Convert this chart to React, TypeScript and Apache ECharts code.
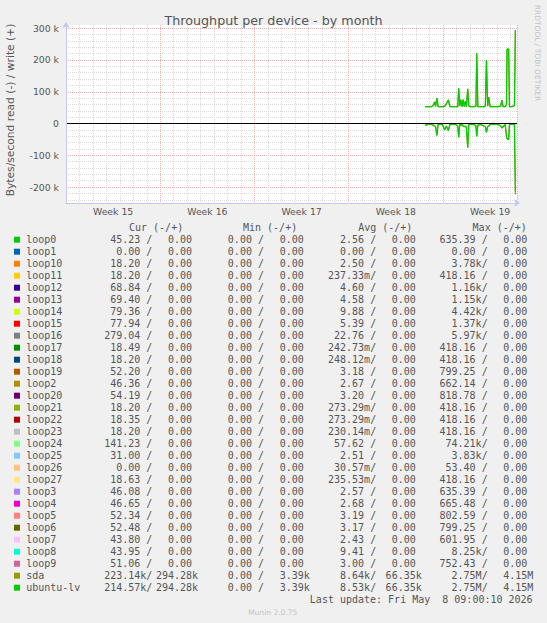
import React, { useEffect, useRef } from 'react';
import * as echarts from 'echarts';

// ---- plot data (x in days from left edge, values in kB/s; read is negative) ----
const times = [26.67, 26.9, 27.15, 27.29, 27.38, 27.45, 27.55, 27.64, 27.8, 27.95, 28.05, 28.15, 28.25, 28.4, 28.52, 28.7, 28.95, 29.1, 29.17, 29.25, 29.33, 29.42, 29.5, 29.58, 29.66, 29.74, 29.84, 29.92, 30.05, 30.3, 30.45, 30.51, 30.59, 30.8, 31.05, 31.15, 31.23, 31.32, 31.4, 31.5, 31.8, 32.1, 32.3, 32.37, 32.47, 32.62, 32.72, 32.76, 32.88, 32.94, 33.1, 33.31, 33.38];
const ubuntuWrite = [53, 53, 53, 58, 68, 54, 80, 53, 53, 53, 53, 55, 62, 74, 53, 53, 53, 53, 111, 55, 75, 53, 75, 53, 70, 53, 109, 55, 53, 53, 55, 221, 53, 53, 53, 56, 200, 55, 83, 53, 53, 53, 55, 74, 53, 53, 60, 234, 234, 53, 53, 56, 294.28];
const ubuntuRead = [-6, -3, -3, -5, -8, -10, -37, -3, -3, -3, -12, -20, -8, -22, -3, -3, -3, -8, -43, -3, -5, -3, -8, -10, -8, -12, -75, -3, -3, -3, -8, -40, -5, -3, -8, -10, -28, -10, -8, -3, -3, -3, -8, -14, -10, -3, -40, -47, -50, -3, -3, -2, -214.57];
const sdaWrite = [53, 53, 53, 58, 68, 54, 80, 53, 53, 53, 53, 55, 62, 74, 53, 53, 53, 53, 111, 55, 75, 53, 75, 53, 70, 53, 109, 55, 53, 53, 55, 221, 53, 53, 53, 56, 200, 55, 83, 53, 53, 53, 55, 74, 53, 53, 60, 234, 234, 53, 53, 56, 294.28];
const sdaRead = [-6, -3, -3, -5, -8, -10, -38, -3, -3, -3, -12, -20, -8, -22, -3, -3, -3, -8, -44, -3, -5, -3, -8, -10, -8, -12, -76, -3, -3, -3, -8, -41, -5, -3, -8, -10, -28, -10, -8, -3, -3, -3, -8, -14, -10, -3, -41, -48, -51, -3, -3, -2, -223.14];

const weekLabels = ['Week 15', 'Week 16', 'Week 17', 'Week 18', 'Week 19'];
const yTickLabels = ['-200 k', '-100 k', '0', '100 k', '200 k', '300 k'];

// ---- legend table ----
const devices = ['loop0', 'loop1', 'loop10', 'loop11', 'loop12', 'loop13', 'loop14', 'loop15', 'loop16', 'loop17', 'loop18', 'loop19', 'loop2', 'loop20', 'loop21', 'loop22', 'loop23', 'loop24', 'loop25', 'loop26', 'loop27', 'loop3', 'loop4', 'loop5', 'loop6', 'loop7', 'loop8', 'loop9', 'sda', 'ubuntu-lv'];
const deviceColors = ['#00cc00', '#0066b3', '#ff8000', '#ffcc00', '#330099', '#990099', '#ccff00', '#ff0000', '#808080', '#008f00', '#00487d', '#b35a00', '#b38f00', '#6b006b', '#8fb300', '#b30000', '#bebebe', '#80ff80', '#80c9ff', '#ffc080', '#ffe680', '#aa80ff', '#ee00cc', '#ff8080', '#666600', '#ffbfff', '#00ffcc', '#cc6699', '#999900', '#00cc00'];
const curRead = ['45.23', '0.00', '18.20', '18.20', '68.84', '69.40', '79.36', '77.94', '279.04', '18.49', '18.20', '52.20', '46.36', '54.19', '18.20', '18.35', '18.20', '141.23', '31.00', '0.00', '18.63', '46.08', '46.65', '52.34', '52.48', '43.80', '43.95', '51.06', '223.14k', '214.57k'];
const curWrite = ['0.00', '0.00', '0.00', '0.00', '0.00', '0.00', '0.00', '0.00', '0.00', '0.00', '0.00', '0.00', '0.00', '0.00', '0.00', '0.00', '0.00', '0.00', '0.00', '0.00', '0.00', '0.00', '0.00', '0.00', '0.00', '0.00', '0.00', '0.00', '294.28k', '294.28k'];
const minRead = ['0.00', '0.00', '0.00', '0.00', '0.00', '0.00', '0.00', '0.00', '0.00', '0.00', '0.00', '0.00', '0.00', '0.00', '0.00', '0.00', '0.00', '0.00', '0.00', '0.00', '0.00', '0.00', '0.00', '0.00', '0.00', '0.00', '0.00', '0.00', '0.00', '0.00'];
const minWrite = ['0.00', '0.00', '0.00', '0.00', '0.00', '0.00', '0.00', '0.00', '0.00', '0.00', '0.00', '0.00', '0.00', '0.00', '0.00', '0.00', '0.00', '0.00', '0.00', '0.00', '0.00', '0.00', '0.00', '0.00', '0.00', '0.00', '0.00', '0.00', '3.39k', '3.39k'];
const avgRead = ['2.56', '0.00', '2.50', '237.33m', '4.60', '4.58', '9.88', '5.39', '22.76', '242.73m', '248.12m', '3.18', '2.67', '3.20', '273.29m', '273.29m', '230.14m', '57.62', '2.51', '30.57m', '235.53m', '2.57', '2.68', '3.19', '3.17', '2.43', '9.41', '3.00', '8.64k', '8.53k'];
const avgWrite = ['0.00', '0.00', '0.00', '0.00', '0.00', '0.00', '0.00', '0.00', '0.00', '0.00', '0.00', '0.00', '0.00', '0.00', '0.00', '0.00', '0.00', '0.00', '0.00', '0.00', '0.00', '0.00', '0.00', '0.00', '0.00', '0.00', '0.00', '0.00', '66.35k', '66.35k'];
const maxRead = ['635.39', '0.00', '3.78k', '418.16', '1.16k', '1.15k', '4.42k', '1.37k', '5.97k', '418.16', '418.16', '799.25', '662.14', '818.78', '418.16', '418.16', '418.16', '74.21k', '3.83k', '53.40', '418.16', '635.39', '665.48', '802.59', '799.25', '601.95', '8.25k', '752.43', '2.75M', '2.75M'];
const maxWrite = ['0.00', '0.00', '0.00', '0.00', '0.00', '0.00', '0.00', '0.00', '0.00', '0.00', '0.00', '0.00', '0.00', '0.00', '0.00', '0.00', '0.00', '0.00', '0.00', '0.00', '0.00', '0.00', '0.00', '0.00', '0.00', '0.00', '0.00', '0.00', '4.15M', '4.15M'];
const headers = ['Cur (-/+)', 'Min (-/+)', 'Avg (-/+)', 'Max (-/+)'];
const lastUpdate = 'Last update: Fri May  8 09:00:10 2026';

const MONO = '"DejaVu Sans Mono", monospace';
const SANS = '"DejaVu Sans", sans-serif';
const TXT = '#555555';
const RED = '#eeb0b0';
const GRAY = '#dadada';
const AXIS = '#c6c6f2';

// plot geometry
const G_LEFT = 66, G_TOP = 25, G_W = 451, G_H = 178;
const Y_MIN = -250, Y_MAX = 310, X_MAX = 33.5;
const pxPerUnit = G_H / (Y_MAX - Y_MIN);
const topOf = (v: number) => G_TOP + (Y_MAX - v) * pxPerUnit;

function splitNum(s: string): [string, string] {
  const last = s[s.length - 1];
  if (/[kmM]/.test(last)) return [s.slice(0, -1), last];
  return [s, ' '];
}
function readField(s: string) {
  const [n, u] = splitNum(s);
  return n.padStart(6, ' ') + u + '/';
}
function writeField(s: string) {
  const [n, u] = splitNum(s);
  return n.padStart(6, ' ') + (u === ' ' ? '' : u);
}

export default function App() {
  const ref = useRef<HTMLDivElement>(null);
  useEffect(() => {
    const el = ref.current!;
    const chart = echarts.init(el, null, { renderer: 'svg' });

    const mk = (t: number[], v: number[]) => t.map((x, i) => [x, v[i]]);

    const graphics: any[] = [];
    graphics.push({
      type: 'text', x: 273.5, y: 20,
      style: { text: 'Throughput per device - by month', fontFamily: SANS, fontSize: 12.7, fill: TXT, align: 'center', verticalAlign: 'middle' },
    });
    graphics.push({
      type: 'text', x: 10, y: 110, rotation: Math.PI / 2,
      style: { text: 'Bytes/second read (-) / write (+)', fontFamily: SANS, fontSize: 10.7, fill: TXT, align: 'center', verticalAlign: 'middle' },
    });
    graphics.push({
      type: 'text', x: 537.5, y: 53, rotation: -Math.PI / 2,
      style: { text: 'RRDTOOL / TOBI OETIKER', fontFamily: SANS, fontSize: 7.5, fill: '#c4c4c4', align: 'center', verticalAlign: 'middle' },
    });
    const headerX = [129, 243, 358.2, 472.6];
    headers.forEach((h, i) => {
      graphics.push({ type: 'text', x: headerX[i], y: 227.7, style: { text: h, fontFamily: MONO, fontSize: 10, fill: TXT, align: 'left', verticalAlign: 'middle' } });
    });
    const colX = [104.2, 156, 215.8, 267.7, 328, 379.6, 439.5, 491.2];
    devices.forEach((d, i) => {
      const y = 239.7 + 12 * i;
      graphics.push({ type: 'rect', shape: { x: 14, y: y - 3, width: 6, height: 6 }, style: { fill: deviceColors[i] } });
      graphics.push({ type: 'text', x: 26.2, y, style: { text: d, fontFamily: MONO, fontSize: 10, fill: TXT, align: 'left', verticalAlign: 'middle' } });
      const cells = [
        readField(curRead[i]), writeField(curWrite[i]),
        readField(minRead[i]), writeField(minWrite[i]),
        readField(avgRead[i]), writeField(avgWrite[i]),
        readField(maxRead[i]), writeField(maxWrite[i]),
      ];
      cells.forEach((c, j) => {
        graphics.push({ type: 'text', x: colX[j], y, style: { text: c, fontFamily: MONO, fontSize: 10, fill: TXT, align: 'left', verticalAlign: 'middle' } });
      });
    });
    graphics.push({ type: 'text', x: 532.6, y: 599.7, style: { text: lastUpdate, fontFamily: MONO, fontSize: 10, fill: TXT, align: 'right', verticalAlign: 'middle' } });
    graphics.push({ type: 'text', x: 272.8, y: 612, style: { text: 'Munin 2.0.75', fontFamily: SANS, fontSize: 7.5, fill: '#c4c4c4', align: 'center', verticalAlign: 'middle' } });

    const hiddenX = (gi: number) => ({ type: 'value', gridIndex: gi, show: false, min: 0, max: X_MAX });
    const hiddenY = (gi: number) => ({ type: 'value', gridIndex: gi, show: false, min: Y_MIN, max: Y_MAX });
    const gridOnlyX = (gi: number, interval: number, color: string) => ({
      type: 'value', gridIndex: gi, min: 0, max: X_MAX, interval,
      axisLine: { show: false }, axisTick: { show: false }, axisLabel: { show: false },
      splitLine: { show: true, lineStyle: { color, type: 'dotted', width: 1 } },
    });
    const gridOnlyY = (gi: number, min: number, max: number, interval: number, color: string) => ({
      type: 'value', gridIndex: gi, min, max, interval,
      axisLine: { show: false }, axisTick: { show: false }, axisLabel: { show: false },
      splitLine: { show: true, lineStyle: { color, type: 'dotted', width: 1 } },
    });

    // horizontal minor lines: every 20 k from -240 k to 300 k; major: every 100 k from -200 k to 300 k
    const minorTop = topOf(300), minorH = topOf(-240) - topOf(300);
    const majorTop = topOf(300), majorH = topOf(-200) - topOf(300);

    const option: any = {
      animation: false,
      backgroundColor: '#f0f0f0',
      grid: [
        { left: G_LEFT, top: G_TOP, width: G_W, height: G_H, show: true, backgroundColor: '#ffffff', borderWidth: 0 },
        { left: G_LEFT, top: G_TOP, width: G_W, height: G_H, show: false },
        { left: G_LEFT, top: G_TOP, width: G_W, height: G_H, show: false },
        { left: G_LEFT, top: minorTop, width: G_W, height: minorH, show: false },
        { left: G_LEFT, top: majorTop, width: G_W, height: majorH, show: false },
      ],
      xAxis: [
        {
          type: 'value', gridIndex: 0, min: 0, max: X_MAX, interval: 0.5, z: 5,
          axisLine: { show: true, onZero: false, lineStyle: { color: AXIS, width: 1 }, symbol: ['none', 'arrow'], symbolSize: [6, 6], symbolOffset: [0, 3] },
          axisTick: { show: false },
          axisLabel: {
            margin: 4, color: TXT, fontFamily: SANS, fontSize: 9.3,
            formatter: (v: number) => {
              const k = (v - 3.5) / 7;
              if (Math.abs(k - Math.round(k)) < 1e-6 && k >= 0 && k < weekLabels.length) return weekLabels[Math.round(k)];
              return '';
            },
          },
          splitLine: { show: false },
        },
        gridOnlyX(1, 1, GRAY),
        gridOnlyX(2, 7, RED),
        hiddenX(3),
        hiddenX(4),
      ],
      yAxis: [
        {
          type: 'value', gridIndex: 0, min: Y_MIN, max: Y_MAX, interval: 10, z: 5,
          axisLine: { show: true, onZero: false, lineStyle: { color: AXIS, width: 1 }, symbol: ['none', 'arrow'], symbolSize: [6, 6], symbolOffset: [0, 3] },
          axisTick: { show: false },
          axisLabel: {
            margin: 7, color: TXT, fontFamily: SANS, fontSize: 9.3,
            formatter: (v: number) => {
              const r = Math.round(v);
              if (r % 100 !== 0) return '';
              const idx = (r + 200) / 100;
              return yTickLabels[idx] ?? '';
            },
          },
          splitLine: { show: false },
        },
        hiddenY(1),
        hiddenY(2),
        gridOnlyY(3, -240, 300, 20, GRAY),
        gridOnlyY(4, -200, 300, 100, RED),
      ],
      series: [
        { name: 'sda write', type: 'line', xAxisIndex: 0, yAxisIndex: 0, data: mk(times, sdaWrite), showSymbol: false, symbol: 'none', lineStyle: { color: '#999900', width: 1.2 }, z: 3 },
        { name: 'sda read', type: 'line', xAxisIndex: 0, yAxisIndex: 0, data: mk(times, sdaRead), showSymbol: false, symbol: 'none', lineStyle: { color: '#999900', width: 1.2 }, z: 3 },
        { name: 'ubuntu-lv write', type: 'line', xAxisIndex: 0, yAxisIndex: 0, data: mk(times, ubuntuWrite), showSymbol: false, symbol: 'none', lineStyle: { color: '#00cc00', width: 1.2 }, z: 4 },
        {
          name: 'ubuntu-lv read', type: 'line', xAxisIndex: 0, yAxisIndex: 0, data: mk(times, ubuntuRead), showSymbol: false, symbol: 'none', lineStyle: { color: '#00cc00', width: 1.2 }, z: 4,
          markLine: { silent: true, symbol: 'none', label: { show: false }, lineStyle: { color: '#000000', width: 1, type: 'solid' }, data: [{ yAxis: 0 }] },
        },
      ],
      graphic: graphics,
    };
    chart.setOption(option);
    return () => chart.dispose();
  }, []);
  return <div ref={ref} style={{ position: 'fixed', left: 0, top: 0, width: 547, height: 623 }} />;
}
